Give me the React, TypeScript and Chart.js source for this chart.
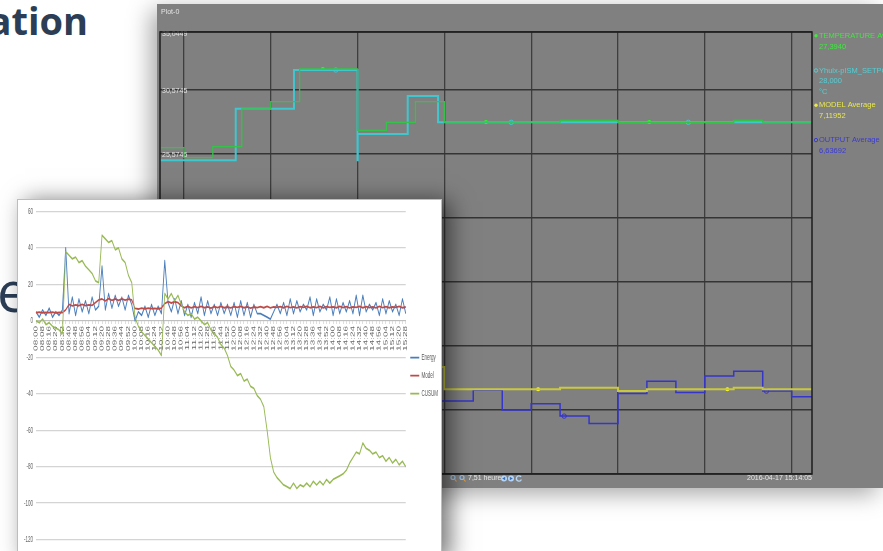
import React, { useEffect, useRef } from "react";
import { Chart, registerables } from "chart.js";

Chart.register(...registerables);

const FONT = '"Liberation Sans", Arial, sans-serif';
const NARROW = '"Liberation Sans Narrow", "Liberation Sans", Arial, sans-serif';

// ---------- Excel chart (white) ----------
const timeLabels = [
  "08:00","08:04","08:08","08:12","08:16","08:20","08:24","08:28","08:32","08:36","08:40","08:44","08:48","08:52","08:56",
  "09:00","09:04","09:08","09:12","09:16","09:20","09:24","09:28","09:32","09:36","09:40","09:44","09:48","09:52","09:56",
  "10:00","10:04","10:08","10:12","10:16","10:20","10:24","10:28","10:32","10:36","10:40","10:44","10:48","10:52","10:56",
  "11:00","11:04","11:08","11:12","11:16","11:20","11:24","11:28","11:32","11:36","11:40","11:44","11:48","11:52","11:56",
  "12:00","12:04","12:08","12:12","12:16","12:20","12:24","12:28","12:32","12:36","12:40","12:44","12:48","12:52","12:56",
  "13:00","13:04","13:08","13:12","13:16","13:20","13:24","13:28","13:32","13:36","13:40","13:44","13:48","13:52","13:56",
  "14:00","14:04","14:08","14:12","14:16","14:20","14:24","14:28","14:32","14:36","14:40","14:44","14:48","14:52","14:56",
  "15:00","15:04","15:08","15:12","15:16","15:20","15:24","15:28"
];

const energyValues = [
  5, 2, 6, 3, 7, 2, 5, 3, 6,
  40,
  4, 13, 3, 12, 5, 11, 4, 13, 6,
  8,
  30,
  6, 15, 7, 14, 8, 13, 6, 14, 9,
  0,
  5, 3, 8, 2, 9, 3, 8, 4,
  33,
  10, 5, 12, 4, 11, 3, 9, 2, 10, 4, 13, 3, 11, 4, 9, 3, 10, 4, 9, 3,
  10, 2, 11, 3, 10, 2, 9, 4,
  4, 3, 2, 1, 5,
  9, 4, 10, 3, 12, 4, 11, 5, 9, 6, 13, 3, 12, 5, 9, 6, 13, 3, 12, 4,
  10, 5, 11, 4, 14, 3, 14, 5, 9, 6, 10, 3, 12, 4, 11, 5, 9, 3, 12, 4
];

const modelValues = [
  4.5, 4.8, 4.4, 4.7, 4.5, 4.8, 4.4, 4.6, 4.5,
  6,
  9, 8.2, 8.8, 8.3, 9, 8.4, 8.8, 8.5,
  10, 11.5,
  12, 11, 12.2, 11.3, 12, 11.2, 12.1, 11.4, 11.9, 11.5,
  6.8, 6.5, 7, 6.6, 7, 6.7, 6.9, 6.6, 7,
  9.5, 10.5, 9.8, 10.6, 10, 8.2,
  7.2, 7.9, 7.1, 7.8, 7.3, 8.0, 7.2, 7.7, 7.0, 7.8,
  7.3, 7.9, 7.2, 7.6, 7.1, 7.8, 7.4, 7.9, 7.2, 7.7,
  7.0, 7.6, 7.3, 7.8, 7.2, 7.9, 7.1, 7.7, 7.4, 7.8,
  7.2, 7.9, 7.3, 7.7, 7.1, 7.8, 7.4, 8.0, 7.2, 7.7,
  7.3, 7.9, 7.1, 7.8, 7.4, 7.7, 7.2, 7.9, 7.3, 7.8,
  7.1, 7.7, 7.4, 7.9, 7.2, 7.8, 7.3, 7.7, 7.1, 7.9,
  7.3, 7.8, 7.2, 7.7, 7.4, 7.9, 7.2, 7.6
];

const cusumValues = [
  0, -1, 1, -2, -1, -3, -4, -5, -7,
  38,
  36, 34, 35, 32, 33, 30, 28, 26, 22, 21,
  47,
  45, 43, 44, 39, 40, 34, 32, 25, 21,
  2, -3, -6, -8, -10, -12, -14, -16, -19,
  15,
  12, 15, 11, 14, 9,
  5, 3, 4, 1, 2, 0,
  -2, -1, -5, -7, -9, -13, -15, -19, -25,
  -27, -30, -29, -33, -32, -36, -37, -41, -43,
  -47, -60, -75, -83, -86, -88, -90, -91,
  -92, -89, -92, -90, -91, -89, -91, -88, -90, -88, -90, -87, -89, -87,
  -86, -85, -84, -82, -78, -75, -72, -73, -67, -70, -71, -73, -72, -75, -74, -77, -75, -78, -76, -79, -77, -80
];

const seriesNames = ["Energy", "Model", "CUSUM"];
const seriesColors = ["#4a7ebb", "#be4b48", "#98b954"];

// ---------- Monitoring plot (grey) ----------
const grayTitle = "Plot-0";
const hourTicks = [8, 9, 10, 11, 12, 13, 14, 15];
const grayYTicks = [0.5745, 5.5745, 10.5745, 15.5745, 20.5745, 25.5745, 30.5745, 35.0449];
const grayXMin = 7.7247;
const grayXMax = 15.2347;

const tempTimes = [7.7247, 8.0, 8.333, 8.667, 9.0, 9.333, 10.0, 10.333, 10.667, 11.0, 12.333, 13.0, 14.333, 14.667, 15.2347];
const tempValues = [26.02, 25.24, 26.1, 29.04, 29.61, 32.16, 27.38, 28.0, 29.61, 28.02, 28.16, 28.0, 28.16, 28.02, 28.02];
const setpointTimes = [7.7247, 8.597, 9.268, 10.0, 10.003, 10.578, 10.927, 15.2347];
const setpointValues = [25.04, 29.06, 32.08, 25.04, 27.09, 30.05, 28.0, 28.0];
const modelAvgTimes = [10.667, 11.0, 12.333, 13.0, 13.333, 14.333, 14.667, 15.2347];
const modelAvgValues = [8.91, 7.19, 7.3, 7.04, 7.19, 7.3, 7.19, 7.19];
const outputTimes = [10.667, 11.333, 11.667, 12.0, 12.333, 12.667, 13.0, 13.333, 13.667, 14.0, 14.333, 14.667, 15.0, 15.2347];
const outputValues = [6.26, 7.12, 5.56, 6.05, 5.09, 4.52, 6.86, 7.8, 6.94, 8.21, 8.58, 7.04, 6.6, 6.6];

const tempMarkerTimes = [9.6, 11.48, 13.36];
const tempMarkerValues = [32.16, 28.02, 28.02];
const setpointMarkerTimes = [9.75, 11.77, 13.81];
const setpointMarkerValues = [32.08, 28.0, 28.0];
const modelMarkerTimes = [12.08, 14.26];
const modelMarkerValues = [7.19, 7.19];
const outputMarkerTimes = [12.38, 14.71];
const outputMarkerValues = [5.09, 7.04];

const grayNames = ["TEMPERATURE Average", "Yhulx-pISM_SETPOINT", "MODEL Average", "OUTPUT Average"];
const grayAverages = [["27,3940"], ["28,000", "°C"], ["7,11952"], ["6,63692"]];
const grayLineColors = ["#35c248", "#3fc6cf", "#c9c93e", "#3535c9"];
const grayTextColors = ["#3ee83e", "#52cfd6", "#e8e84a", "#3a3ad6"];
const grayMarkerFilled = [true, false, true, false];
const statusSpan = "7,51 heures";
const statusDate = "2016-04-17 15:14:05";

const pts = (xs: number[], ys: number[]) => xs.map((x, i) => ({ x, y: ys[i] }));

const grayFrame = {
  id: "grayFrame",
  afterDraw(chart: any) {
    const { ctx, chartArea: a } = chart;
    ctx.save();
    ctx.strokeStyle = "#1c1c1c";
    ctx.lineWidth = 1.5;
    ctx.strokeRect(a.left, a.top, a.right - a.left, a.bottom - a.top);

    ctx.font = `7px ${NARROW}`;
    ctx.textBaseline = "middle";
    ctx.textAlign = "left";
    ctx.fillStyle = "#e4e4e4";
    ctx.fillText(grayTitle, a.left + 1, 8);

    ctx.font = `7.5px ${NARROW}`;
    grayNames.forEach((name, k) => {
      const my = a.top + 3.7 + k * 34.8;
      const mx = a.right + 4;
      ctx.fillStyle = grayTextColors[k];
      ctx.strokeStyle = grayTextColors[k];
      ctx.lineWidth = 1;
      ctx.beginPath();
      ctx.arc(mx, my, 1.7, 0, Math.PI * 2);
      if (grayMarkerFilled[k]) ctx.fill();
      else ctx.stroke();
      ctx.fillText(name, mx + 3, my);
      grayAverages[k].forEach((t, j) => ctx.fillText(t, mx + 3, my + (j + 1) * 10.8));
    });

    ctx.font = `7px ${NARROW}`;
    const sy = a.bottom + 4.5;
    [a.left + 293, a.left + 302].forEach((x) => {
      ctx.strokeStyle = "#9fc3ea";
      ctx.lineWidth = 1.2;
      ctx.beginPath();
      ctx.arc(x, sy - 1, 2, 0, Math.PI * 2);
      ctx.stroke();
      ctx.strokeStyle = "#e8a040";
      ctx.beginPath();
      ctx.moveTo(x + 1.5, sy + 0.5);
      ctx.lineTo(x + 3.5, sy + 3);
      ctx.stroke();
    });
    ctx.fillStyle = "#e6e6e6";
    ctx.fillText(statusSpan, a.left + 308, sy);
    [a.left + 344, a.left + 351].forEach((x, i) => {
      ctx.fillStyle = "#b8d4f4";
      ctx.beginPath();
      ctx.arc(x, sy, 3, 0, Math.PI * 2);
      ctx.fill();
      ctx.fillStyle = "#3a6fb8";
      ctx.beginPath();
      if (i === 0) {
        ctx.moveTo(x - 1.8, sy); ctx.lineTo(x + 1.2, sy - 1.8); ctx.lineTo(x + 1.2, sy + 1.8);
      } else {
        ctx.moveTo(x + 1.8, sy); ctx.lineTo(x - 1.2, sy - 1.8); ctx.lineTo(x - 1.2, sy + 1.8);
      }
      ctx.fill();
    });
    ctx.strokeStyle = "#b8d4f4";
    ctx.lineWidth = 1.3;
    ctx.beginPath();
    ctx.arc(a.left + 359, sy, 2.6, 0.4, Math.PI * 1.8);
    ctx.stroke();

    ctx.fillStyle = "#e6e6e6";
    ctx.textAlign = "right";
    ctx.fillText(statusDate, a.right, sy);
    ctx.restore();
  },
};

export default function App() {
  const grayRef = useRef<HTMLCanvasElement>(null);
  const whiteRef = useRef<HTMLCanvasElement>(null);

  useEffect(() => {
    const grayChart = new Chart(grayRef.current as HTMLCanvasElement, {
      type: "line",
      data: {
        datasets: [
          { label: grayNames[0], data: pts(tempTimes, tempValues), stepped: true, borderColor: grayLineColors[0], borderWidth: 1.3, pointRadius: 0 },
          { label: grayNames[1], data: pts(setpointTimes, setpointValues), stepped: true, borderColor: grayLineColors[1], borderWidth: 2, pointRadius: 0 },
          { label: grayNames[2], data: pts(modelAvgTimes, modelAvgValues), stepped: true, borderColor: grayLineColors[2], borderWidth: 2, pointRadius: 0 },
          { label: grayNames[3], data: pts(outputTimes, outputValues), stepped: true, borderColor: grayLineColors[3], borderWidth: 1.5, pointRadius: 0 },
          { label: "m0", data: pts(tempMarkerTimes, tempMarkerValues), showLine: false, pointRadius: 2, pointBackgroundColor: "#22ff22", pointBorderColor: "#22ff22", pointBorderWidth: 0 },
          { label: "m1", data: pts(setpointMarkerTimes, setpointMarkerValues), showLine: false, pointRadius: 2.2, pointBackgroundColor: "rgba(0,0,0,0)", pointBorderColor: grayLineColors[1], pointBorderWidth: 1 },
          { label: "m2", data: pts(modelMarkerTimes, modelMarkerValues), showLine: false, pointRadius: 2, pointBackgroundColor: "#ffff30", pointBorderColor: "#ffff30", pointBorderWidth: 0 },
          { label: "m3", data: pts(outputMarkerTimes, outputMarkerValues), showLine: false, pointRadius: 2.2, pointBackgroundColor: "rgba(0,0,0,0)", pointBorderColor: grayLineColors[3], pointBorderWidth: 1 },
        ],
      },
      options: {
        animation: false,
        responsive: false,
        events: [],
        layout: { padding: { left: 3, top: 28, right: 71, bottom: 14 }, autoPadding: false },
        plugins: { legend: { display: false }, tooltip: { enabled: false } },
        scales: {
          x: {
            type: "linear",
            min: grayXMin,
            max: grayXMax,
            afterBuildTicks: (s: any) => { s.ticks = hourTicks.map((v) => ({ value: v })); },
            afterFit: (s: any) => { s.height = 0; },
            ticks: { display: false },
            grid: { color: "#3e3e3e", lineWidth: 1.3, drawTicks: false },
            border: { display: false },
          },
          y: {
            type: "linear",
            min: grayYTicks[0],
            max: grayYTicks[grayYTicks.length - 1],
            afterBuildTicks: (s: any) => { s.ticks = grayYTicks.map((v) => ({ value: v })); },
            afterFit: (s: any) => { s.width = 0; },
            ticks: {
              mirror: true,
              padding: 2,
              labelOffset: 2,
              color: "#e2e2e2",
              font: { size: 7, family: NARROW },
              callback: (v: any) => String(v).replace(".", ","),
            },
            grid: { color: "#343434", lineWidth: 1.4, drawTicks: false },
            border: { display: false },
          },
        },
      },
      plugins: [grayFrame],
    } as any);

    const whiteChart = new Chart(whiteRef.current as HTMLCanvasElement, {
      type: "line",
      data: {
        labels: timeLabels,
        datasets: [energyValues, modelValues, cusumValues].map((vals, i) => ({
          label: seriesNames[i],
          data: vals,
          borderColor: seriesColors[i],
          backgroundColor: seriesColors[i],
          borderWidth: 1.8,
          borderJoinStyle: "round",
          pointRadius: 0,
          pointStyle: "line",
          tension: 0,
          order: 3 - i,
        })),
      },
      options: {
        animation: false,
        responsive: false,
        events: [],
        layout: { padding: { left: 0, right: -4, top: 11.5, bottom: 11 }, autoPadding: false },
        plugins: {
          tooltip: { enabled: false },
          legend: {
            position: "right",
            align: "center",
            fullSize: false,
            labels: {
              usePointStyle: true,
              pointStyleWidth: 18,
              boxHeight: 9,
              padding: 9,
              color: "#595959",
              font: { size: 9, family: FONT },
              sort: (a: any, b: any) => a.datasetIndex - b.datasetIndex,
            },
          },
        },
        scales: {
          x: {
            type: "category",
            position: { y: 0 },
            offset: false,
            grid: { drawOnChartArea: false, drawTicks: true, tickLength: 3, color: "#bfbfbf" },
            border: { color: "#bfbfbf" },
            ticks: {
              autoSkip: false,
              minRotation: 90,
              maxRotation: 90,
              padding: 2,
              color: "#666666",
              font: { size: 10, family: FONT },
              callback: (_v: any, i: number) => (i % 2 === 0 ? timeLabels[i] : ""),
            },
          },
          y: {
            type: "linear",
            min: -120,
            max: 60,
            afterFit: (s: any) => { s.width = 36; },
            ticks: { stepSize: 20, padding: 6, color: "#666666", font: { size: 9, family: FONT } },
            grid: { color: "#d4d4d4", lineWidth: 1.3, drawTicks: false },
            border: { display: false },
          },
        },
      },
    } as any);

    return () => {
      grayChart.destroy();
      whiteChart.destroy();
    };
  }, []);

  const S = 0.5;
  return (
    <div style={{ position: "fixed", left: 0, top: 0, width: 883, height: 551, overflow: "hidden", background: "#ffffff" }}>
      <div style={{ position: "absolute", right: 795, top: 1, fontFamily: '"Open Sans", sans-serif', fontWeight: 700, fontSize: 38, lineHeight: "38px", color: "#2b3e55", whiteSpace: "nowrap" }}>
        ation
      </div>
      <div style={{ position: "absolute", left: -3, top: 262, fontFamily: '"Open Sans", sans-serif', fontWeight: 400, fontSize: 56, lineHeight: "56px", color: "#2b3e55" }}>
        e
      </div>
      <div style={{ position: "absolute", left: 157, top: 4, width: 726, height: 484, background: "#808080", boxShadow: "-6px 6px 22px rgba(0,0,0,0.35)" }}>
        <canvas ref={grayRef} width={726} height={484} style={{ width: 726, height: 484, display: "block" }} />
      </div>
      <div style={{ position: "absolute", left: 17, top: 199, width: 425, height: 360, boxSizing: "border-box", border: "1px solid #bdbdbd", background: "#ffffff", overflow: "hidden", boxShadow: "8px 2px 22px rgba(0,0,0,0.55)" }}>
        <div style={{ width: 423 / S, height: 351, transform: `scaleX(${S})`, transformOrigin: "0 0" }}>
          <canvas ref={whiteRef} width={846} height={351} style={{ width: 846, height: 351, display: "block" }} />
        </div>
      </div>
    </div>
  );
}
